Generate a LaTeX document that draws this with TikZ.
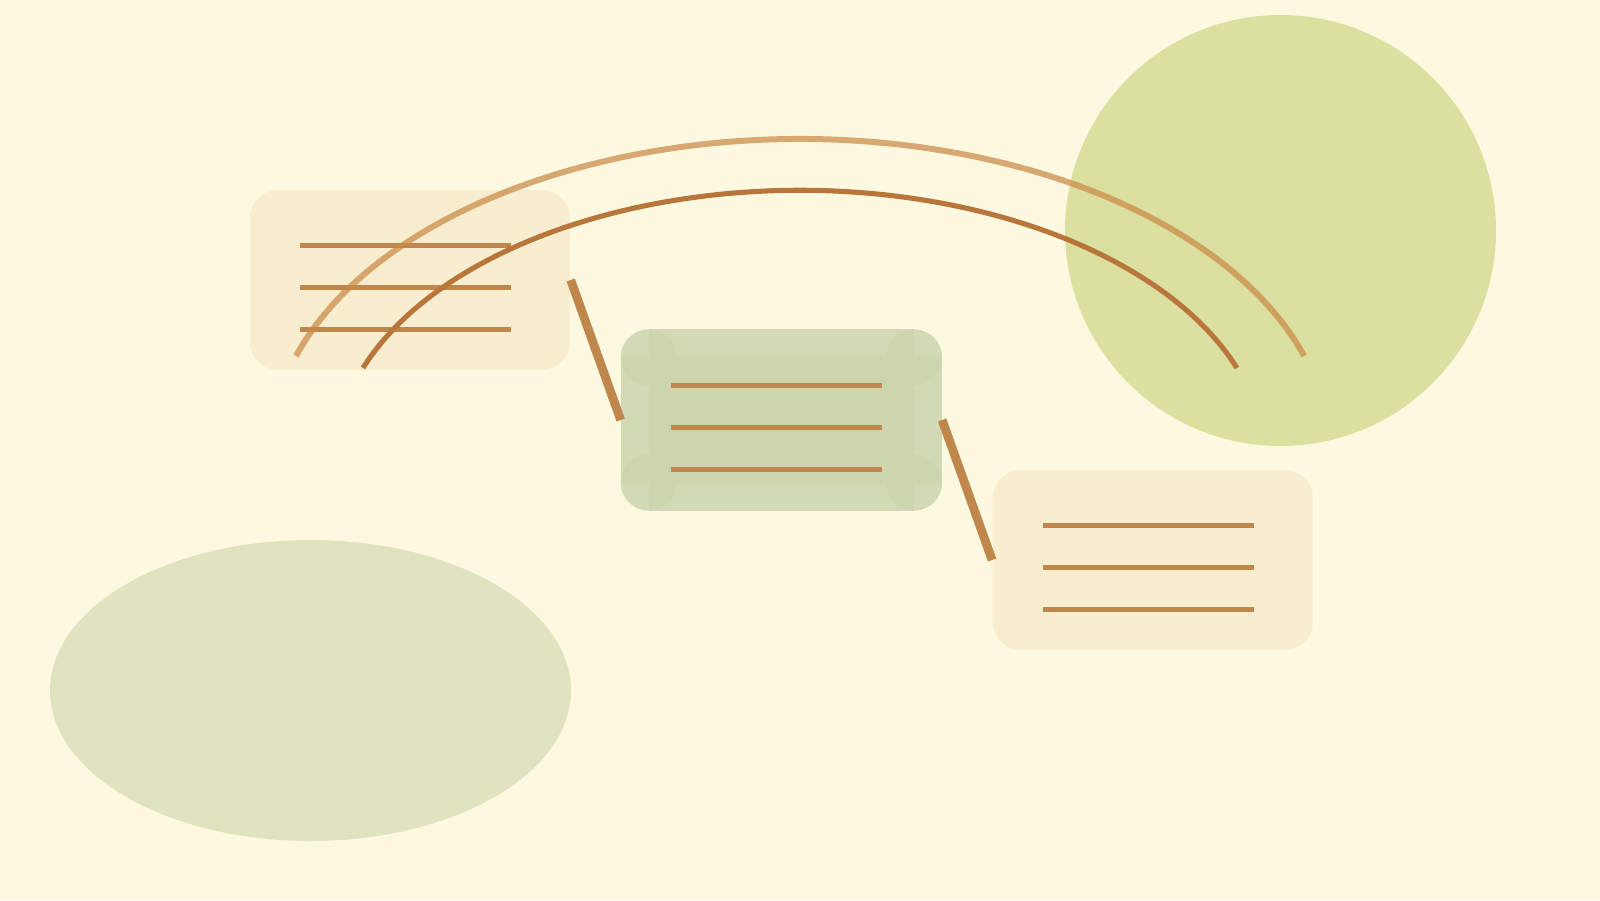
\documentclass[tikz,border=0pt]{standalone}
\usepackage{tikz}
\usetikzlibrary{positioning}
\definecolor{paper}{HTML}{FDF9E1}
\definecolor{cardfill}{HTML}{F9EDD0}
\definecolor{sage}{HTML}{CCD5AE}
\definecolor{pond}{HTML}{DFE3C0}
\definecolor{sun}{HTML}{DBE0A1}
\definecolor{copper}{HTML}{C0874C}
\definecolor{rust}{HTML}{B9763A}
\definecolor{amber}{HTML}{C98A46}
\tikzset{
    %Define style for boxes
    card/.style={
           rectangle,
           rounded corners=2.8mm,
           fill=cardfill,
           minimum width=3.2cm,
           minimum height=1.8cm,
           inner sep=0pt},
    greencard/.style={
           rectangle,
           minimum width=3.2cm,
           minimum height=1.8cm,
           inner sep=0pt},
    patch/.style={
           fill=sage,
           fill opacity=0.86},
    rule/.style={
           draw=copper,
           line width=1.4pt},
    % Define connector style
    pil/.style={
           draw=copper,
           line width=2.5pt},
    bow/.style={
           draw=rust,
           line width=1.45pt},
    faintbow/.style={
           draw=amber,
           draw opacity=0.72,
           line width=1.7pt}
}
\begin{document}
\begin{tikzpicture}
\fill[paper] (0,0) rectangle (16,9);
\useasboundingbox (0,0) rectangle (16,9);
 %shapes
\fill[pond] (3.105,2.095) ellipse (2.605 and 1.505);
\fill[sun] (12.805,6.695) circle (2.155);
 %nodes
\node[card] (box1) at (4.10,6.20) {};
\node[greencard, right=5mm of box1, yshift=-14mm] (box2) {};
\node[card, right=5mm of box2, yshift=-14mm] (box3) {};
\fill[patch] ([xshift=2.8mm]box2.north west) rectangle ([xshift=-2.8mm]box2.south east);
\fill[patch] ([yshift=-2.8mm]box2.north west) rectangle ([yshift=2.8mm]box2.south east);
\foreach \c/\dx/\dy in {north west/1/-1, north east/-1/-1, south west/1/1, south east/-1/1}
    \fill[patch] ([shift={(\dx*0.28,\dy*0.28)}]box2.\c) circle (0.28);
\foreach \b in {box1,box2,box3}
    \foreach \dy in {0.347,-0.073,-0.493}
        \draw[rule] ([shift={(-1.10,\dy)}]\b.center) -- ([shift={(1.01,\dy)}]\b.center);
 %connectors
\draw[pil] (box1.east) -- (box2.west);
\draw[pil] (box2.west -| box2.east) -- (box3.west);
 %arcs
\coordinate (outerstart) at (2.96,5.44);
\coordinate (innerstart) at (3.63,5.32);
\draw[faintbow] (outerstart) arc[start angle=162, end angle=18, x radius=5.30, y radius=3.14];
\draw[bow] (innerstart) arc[start angle=160, end angle=20, x radius=4.65, y radius=2.70];
\end{tikzpicture}
\end{document}
